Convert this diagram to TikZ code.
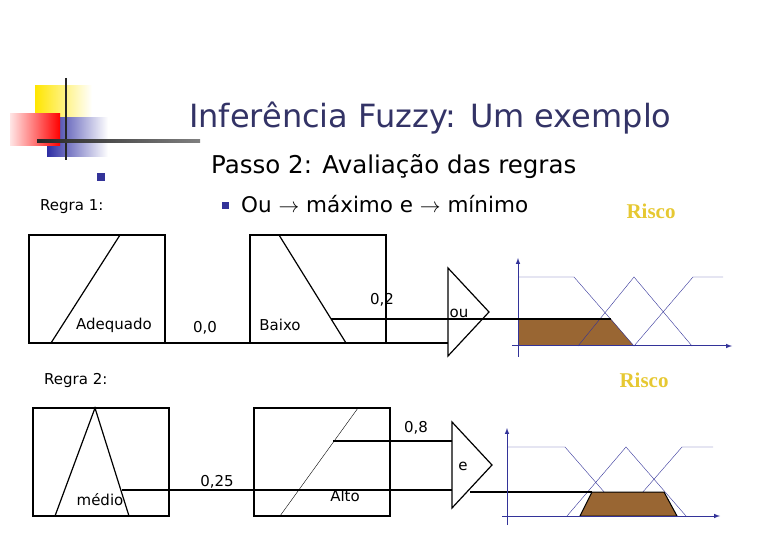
\documentclass[tikz,border=0pt]{standalone}
\usepackage{fontspec}
\setmainfont{DejaVu Sans}
\newfontfamily\riscofont{Liberation Serif}
\usetikzlibrary{positioning}
\definecolor{titlecol}{RGB}{51,51,102}
\definecolor{navy}{RGB}{51,51,153}
\definecolor{brownfill}{RGB}{153,102,51}
\definecolor{riscocol}{RGB}{230,200,50}
\tikzset{
  box/.style={draw, line width=1.2pt},
  wire/.style={line width=1.2pt},
  gate/.style={draw, line width=1.2pt},
  mf/.style={navy, line width=0.4pt},
  axis/.style={navy, line width=1pt, -latex},
  lbl/.style={font=\fontsize{15}{15}\selectfont, inner sep=0pt},
  risco/.style={font=\riscofont\bfseries\fontsize{21}{21}\selectfont, text=riscocol}
}
\begin{document}
\begin{tikzpicture}[x=1pt,y=-1pt]
\useasboundingbox (0,0) rectangle (780,540);
% logo
\shade[left color=yellow!80!orange, right color=white] (35,86) rectangle (92,118);
\shade[left color=navy!90!blue, right color=white] (47,118) rectangle (108,157);
\shade[left color=red!10, right color=red] (10,114) rectangle (60,146);
\draw[line width=1.5pt, black!85] (66,78) -- (66,160);
\shade[left color=black!85, right color=black!50] (37,140) rectangle (200,142.5);
% titles
\node[font=\fontsize{32}{32}\selectfont, text=titlecol, anchor=west, inner sep=0pt] (title) at (189,118) {Inferência Fuzzy: Um exemplo};
\fill[navy] (97,173) rectangle (105,181);
\node[font=\fontsize{24.5}{24.5}\selectfont, anchor=west, inner sep=0pt] (passo) at (211,167) {Passo 2: Avaliação das regras};
\fill[navy] (222,202) rectangle (229,209);
\node[font=\fontsize{21.5}{21.5}\selectfont, anchor=west, inner sep=0pt] (ou) at (241,204) {Ou $\rightarrow$ máximo e $\rightarrow$ mínimo};
\node[lbl, anchor=west] (r1) at (40,207) {Regra 1:};
\node[lbl, anchor=west] (r2) at (44,380) {Regra 2:};
\node[risco] (risco1) at (651,211) {Risco};
\node[risco] (risco2) at (644,380) {Risco};

% regra 1
\draw[box] (29,235) rectangle (165,343);
\draw[wire] (51,343) -- (120,235);
\node[lbl] (adeq) at (114,325) {Adequado};
\draw[box] (250,235) rectangle (386,343);
\draw[wire] (279,235) -- (346,343);
\node[lbl] (baixo) at (280,325) {Baixo};
\node[lbl] (v00) at (205,328) {0,0};
\node[lbl] (v02) at (382,300) {0,2};
\draw[wire] (165,343) -- (250,343);
\draw[wire] (386,343) -- (448,343);
\draw[gate] (448,268) -- (489,312) -- (448,356) -- cycle;
\node[lbl] (gou) at (459,313) {ou};
\draw[wire] (331,319) -- (518,319);
% saida 1
\fill[brownfill] (518,319) -- (611,319) -- (634,346) -- (518,346) -- cycle;
\draw[mf] (518,277) -- (574,277) -- (634,346);
\draw[mf] (578,346) -- (634,277) -- (692,346);
\draw[mf] (634,346) -- (693,277) -- (723,277);
\draw[axis] (518,357) -- (518,258);
\draw[axis] (512,346) -- (732,346);
\draw[wire] (518,319) -- (611,319);

% regra 2
\draw[box] (33,408) rectangle (169,516);
\draw[wire] (55,516) -- (95,408) -- (129,516);
\node[lbl] (medio) at (100,500) {médio};
\draw[box] (254,408) rectangle (390,516);
\draw[thin] (280,516) -- (358,408);
\node[lbl] (alto) at (345,496) {Alto};
\node[lbl] (v025) at (217,482) {0,25};
\node[lbl] (v08) at (416,428) {0,8};
\draw[wire] (122,490) -- (452,490);
\draw[wire] (333,441) -- (452,441);
\draw[gate] (452,422) -- (492,465) -- (452,508) -- cycle;
\node[lbl] (ge) at (463,466) {e};
% saida 2
\draw[mf] (507,447) -- (565,447) -- (625,516);
\draw[mf] (567,516) -- (626,447) -- (686,516);
\draw[mf] (622,516) -- (682,447) -- (713,447);
\draw[black, line width=1pt, fill=brownfill] (580,516) -- (592,492) -- (664,492) -- (677,516) -- cycle;
\draw[wire] (470,492) -- (592,492);
\draw[axis] (507,525) -- (507,428);
\draw[axis] (502,516) -- (720,516);
\end{tikzpicture}
\end{document}
